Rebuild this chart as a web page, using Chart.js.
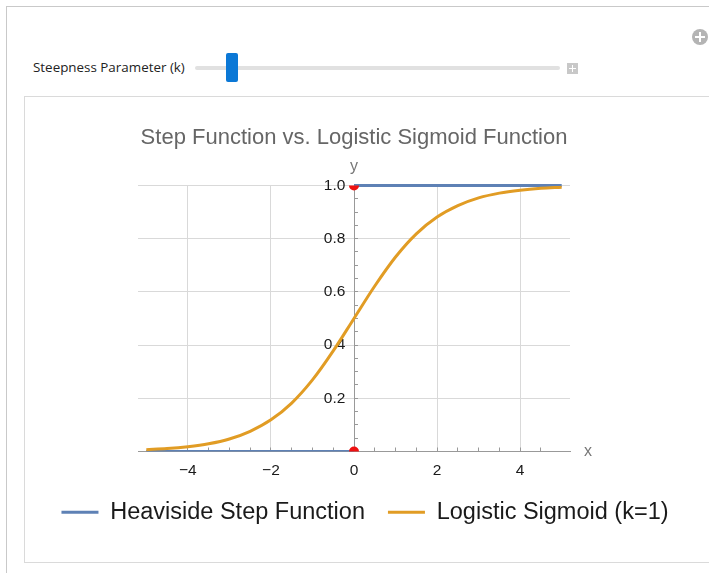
<!DOCTYPE html>
<html>
<head>
<meta charset="utf-8">
<title>Step Function vs. Logistic Sigmoid Function</title>
<script src="https://cdn.jsdelivr.net/npm/chart.js@4.4.1/dist/chart.umd.min.js"></script>
<style>
  html, body { margin: 0; padding: 0; background: #fff; overflow: hidden; }
  body { width: 709px; height: 573px; position: relative; }
  #frame { position: absolute; left: 6px; top: 6px; width: 760px; height: 620px; border: 1px solid #c9c9c9; }
  #panel { position: absolute; left: 24px; top: 96px; width: 740px; height: 465px; border: 1px solid #dadada; }
  #label { position: absolute; left: 33px; top: 58px; font: 13.4px "Open Sans", sans-serif; color: #222; white-space: nowrap; }
  #track { position: absolute; left: 195px; top: 66px; width: 365px; height: 4px; background: #e1e1e1; border-radius: 2px; }
  #thumb { position: absolute; left: 226px; top: 53px; width: 12px; height: 29px; background: #0b78d6; border-radius: 2px; }
  .plus { position: absolute; background: #c8c8c8; }
  .plus i { position: absolute; background: #fff; }
  #plusBox { left: 567px; top: 63px; width: 11px; height: 11px; }
  #plusBox .h { left: 2px; top: 5px; width: 7px; height: 1px; }
  #plusBox .v { left: 5px; top: 2px; width: 1px; height: 7px; }
  #plusCircle { left: 692px; top: 29px; width: 16px; height: 16px; border-radius: 50%; background: #b4b4b4; }
  #plusCircle .h { left: 3px; top: 7px; width: 10px; height: 2px; }
  #plusCircle .v { left: 7px; top: 3px; width: 2px; height: 10px; }
  #chart { position: absolute; left: 25px; top: 97px; }
</style>
</head>
<body>
<div id="frame"></div>
<div class="plus" id="plusCircle"><i class="h"></i><i class="v"></i></div>
<div id="label">Steepness Parameter (k)</div>
<div id="track"></div>
<div id="thumb"></div>
<div class="plus" id="plusBox"><i class="h"></i><i class="v"></i></div>
<div id="panel"></div>
<canvas id="chart" width="680" height="464"></canvas>
<script>
// tick labels
var xTickLabels = [-4, -2, 0, 2, 4];
var yTickLabels = [0.2, 0.4, 0.6, 0.8, 1.0];

// Heaviside step (null breaks the line at the jump)
var stepX = [-5, 0, 0, 0, 5];
var stepY = [0, 0, null, 1, 1];

// logistic sigmoid k=1
var sigmoidX = [-5, -4.5, -4, -3.5, -3, -2.5, -2, -1.5, -1, -0.5, 0, 0.5, 1, 1.5, 2, 2.5, 3, 3.5, 4, 4.5, 5];
var sigmoidY = [0.007, 0.011, 0.018, 0.029, 0.047, 0.076, 0.119, 0.182, 0.269, 0.378, 0.5, 0.622, 0.731, 0.818, 0.881, 0.924, 0.953, 0.971, 0.982, 0.989, 0.993];

// red points at the jump
var jumpX = [0, 0];
var jumpY = [0, 1];

var fontFamily = '"Liberation Sans", Arial, sans-serif';
Chart.defaults.font.family = fontFamily;

function pairs(xs, ys) {
  return xs.map(function (x, i) { return { x: x, y: ys[i] }; });
}
function isTick(list, v) {
  return list.some(function (t) { return Math.abs(t - v) < 1e-9; });
}
var clear = 'rgba(0,0,0,0)';

var axisLetters = {
  id: 'axisLetters',
  afterDraw: function (chart) {
    var ctx = chart.ctx;
    var x = chart.scales.x, y = chart.scales.y;
    ctx.save();
    ctx.font = '16px ' + fontFamily;
    ctx.fillStyle = '#777';
    ctx.textAlign = 'left';
    ctx.textBaseline = 'middle';
    ctx.fillText('x', x.right + 14, y.getPixelForValue(0));
    ctx.textAlign = 'center';
    ctx.textBaseline = 'alphabetic';
    ctx.fillText('y', x.getPixelForValue(0), y.top - 14);
    ctx.restore();
  }
};

// empty side axes only reserve room so the legend can use the full width
function spacer(pos, w) {
  return {
    type: 'linear',
    position: pos,
    ticks: { display: false },
    grid: { display: false },
    border: { display: false },
    afterFit: function (s) { s.width = w; }
  };
}

var chart = new Chart(document.getElementById('chart'), {
  type: 'line',
  data: {
    datasets: [{
      label: 'Heaviside Step Function',
      data: pairs(stepX, stepY),
      borderColor: '#5e81b5',
      backgroundColor: '#5e81b5',
      borderWidth: 3,
      pointRadius: 0,
      spanGaps: false,
      clip: { left: 4, right: 4, top: 4, bottom: 0 },
      order: 3
    }, {
      label: 'Logistic Sigmoid (k=1)',
      data: pairs(sigmoidX, sigmoidY),
      borderColor: '#e19c24',
      backgroundColor: '#e19c24',
      borderWidth: 3,
      pointRadius: 0,
      cubicInterpolationMode: 'monotone',
      order: 2
    }, {
      label: '',
      data: pairs(jumpX, jumpY),
      showLine: false,
      pointRadius: 5,
      pointBackgroundColor: '#ee1111',
      pointBorderWidth: 0,
      clip: 0,
      order: 1
    }]
  },
  options: {
    responsive: false,
    animation: false,
    layout: { padding: { left: 0, right: 0, top: 0, bottom: 27 } },
    plugins: {
      title: {
        display: true,
        text: 'Step Function vs. Logistic Sigmoid Function',
        color: '#666',
        font: { size: 22, weight: 'normal' },
        fullSize: false,
        padding: { top: 28, bottom: 34 }
      },
      legend: {
        position: 'bottom',
        labels: {
          usePointStyle: true,
          pointStyle: 'line',
          pointStyleWidth: 37,
          color: '#1a1a1a',
          font: { size: 23.5 },
          padding: 23,
          filter: function (item) { return item.text !== ''; },
          sort: function (a, b) { return a.datasetIndex - b.datasetIndex; }
        }
      },
      tooltip: { enabled: false }
    },
    scales: {
      x: {
        type: 'linear',
        min: -5.2,
        max: 5.2,
        position: 'bottom',
        afterFit: function (s) { s.height = 26; },
        ticks: {
          stepSize: 0.5,
          autoSkip: false,
          maxRotation: 0,
          padding: 14,
          color: '#1a1a1a',
          font: { size: 15.5 },
          callback: function (v) {
            if (!isTick(xTickLabels, v)) return '';
            return v < 0 ? '\u2212' + Math.abs(v) : String(v);
          }
        },
        grid: {
          color: function (c) {
            return (c.tick && c.tick.value !== 0 && isTick(xTickLabels, c.tick.value)) ? '#d9d9d9' : clear;
          },
          tickColor: function (c) {
            return (c.tick && Math.abs(c.tick.value) <= 5.0001) ? '#999' : clear;
          },
          tickLength: -4
        },
        border: { color: '#999', width: 1 }
      },
      y: {
        type: 'linear',
        min: 0,
        max: 1,
        position: { x: 0 },
        ticks: {
          stepSize: 0.05,
          autoSkip: false,
          color: '#1a1a1a',
          font: { size: 15.5 },
          // trailing spaces keep the labels clear of the centred axis
          callback: function (v) { return isTick(yTickLabels, v) ? v.toFixed(1) + '  ' : ''; }
        },
        grid: {
          color: function (c) { return (c.tick && isTick(yTickLabels, c.tick.value)) ? '#d9d9d9' : clear; },
          tickColor: '#999',
          tickLength: -4
        },
        border: { color: '#999', width: 1 }
      },
      padL: spacer('left', 113),
      padR: spacer('right', 135)
    }
  },
  plugins: [axisLetters]
});
</script>
</body>
</html>
